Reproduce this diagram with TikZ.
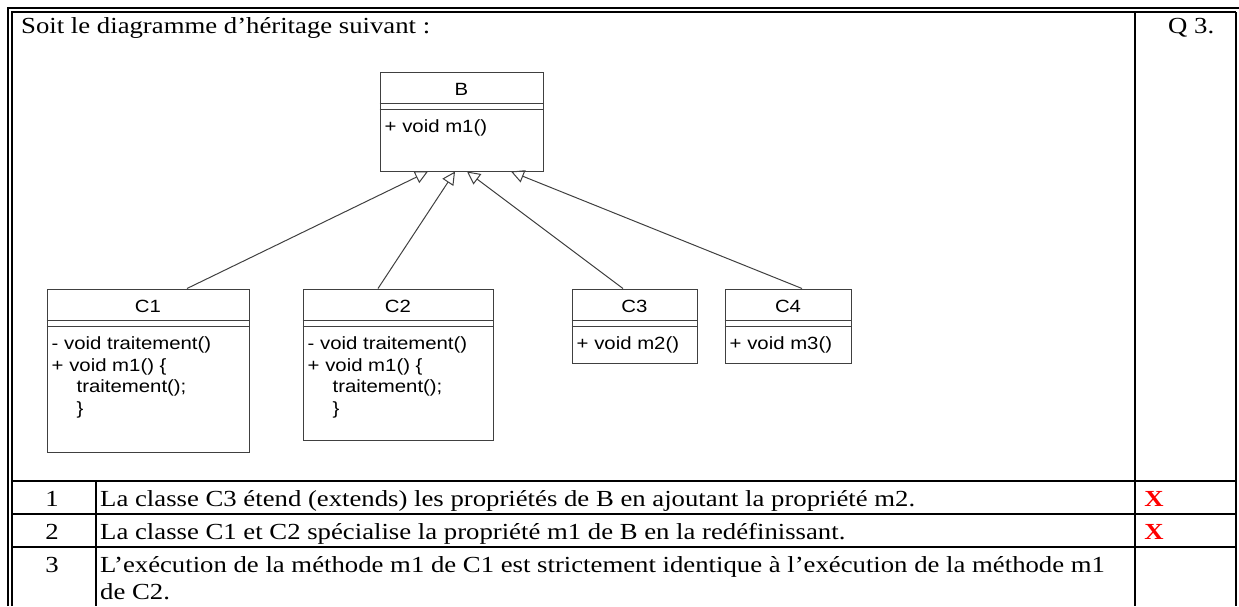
\documentclass[tikz,border=0pt]{standalone}
\usepackage{fontspec}
\setmainfont{Liberation Serif}
\newfontfamily\umlfont{Liberation Sans}
\usetikzlibrary{arrows.meta}
\definecolor{umlgray}{gray}{0.25}
\definecolor{markred}{RGB}{255,0,0}

\begin{document}
\begin{tikzpicture}[x=1pt, y=-1pt,
  txt/.style={inner sep=0pt, xscale=1.162, font=\fontsize{23}{27}\selectfont},
  umlbox/.style={draw=umlgray, line width=1pt, inner sep=0pt},
  umlname/.style={inner sep=0pt, xscale=1.15, anchor=base, font=\umlfont\fontsize{17.7}{21.7}\selectfont},
  umlops/.style={inner sep=0pt, xscale=1.15, anchor=base west, align=flush left, text width=150pt, font=\umlfont\fontsize{17.7}{21.7}\selectfont},
  inherit/.style={draw=umlgray, line width=1pt, -{Triangle[open, length=13pt, width=13pt]}},
  rule/.style={line width=1.8pt},
]
\useasboundingbox (0,0) rectangle (1239,606);

% frame and table
\draw[line width=2pt] (8,606) -- (8,8) -- (1239,8);
\draw[line width=1.2pt] (12,606) -- (12,12) -- (1236,12);
\draw[rule] (1236,12) -- (1236,606);
\draw[rule] (1135,12) -- (1135,606);
\foreach \y in {481,514,547} \draw[rule] (12,\y) -- (1236,\y);
\draw[line width=1.4pt] (96,481) -- (96,606);

\node[txt, anchor=base west] (title) at (21,33.5) {Soit le diagramme d’héritage suivant :};
\node[txt, anchor=base west] (qnum) at (1168,33.5) {Q 3.};

% classes
\node[umlbox, minimum width=163pt, minimum height=99pt] (b) at (461.5,121.5) {};
\node[umlbox, minimum width=202pt, minimum height=163pt] (c1) at (148,370.5) {};
\node[umlbox, minimum width=190pt, minimum height=151pt] (c2) at (398,364.5) {};
\node[umlbox, minimum width=125pt, minimum height=74pt] (c3) at (634.5,326) {};
\node[umlbox, minimum width=126pt, minimum height=74pt] (c4) at (788,326) {};
\foreach \c in {b,c1,c2,c3,c4} {
  \draw[umlgray, line width=1pt] ([yshift=-31.5pt]\c.north west) -- ([yshift=-31.5pt]\c.north east);
  \draw[umlgray, line width=1pt] ([yshift=-37.5pt]\c.north west) -- ([yshift=-37.5pt]\c.north east);
}
\node[umlname] (bname) at ([yshift=-24pt]b.north) {B};
\node[umlname] (c1name) at ([yshift=-24pt]c1.north) {C1};
\node[umlname] (c2name) at ([yshift=-24pt]c2.north) {C2};
\node[umlname] (c3name) at ([yshift=-24pt]c3.north) {C3};
\node[umlname] (c4name) at ([yshift=-24pt]c4.north) {C4};

\node[umlops] (bops) at ([shift={(5,61)}]b.north west) {+ void m1()};
\node[umlops] (c1ops) at ([shift={(5,61)}]c1.north west) {- void traitement()\\+ void m1() \{\\\hspace*{21.7pt}traitement();\\\hspace*{21.7pt}\}};
\node[umlops] (c2ops) at ([shift={(5,61)}]c2.north west) {- void traitement()\\+ void m1() \{\\\hspace*{21.7pt}traitement();\\\hspace*{21.7pt}\}};
\node[umlops] (c3ops) at ([shift={(5,61)}]c3.north west) {+ void m2()};
\node[umlops] (c4ops) at ([shift={(5,61)}]c4.north west) {+ void m3()};

% inheritance
\draw[inherit] ([shift={(39,0)}]c1.north) -- ([shift={(-33.5,0)}]b.south);
\draw[inherit] ([shift={(-20,0)}]c2.north) -- ([shift={(-6.5,0)}]b.south);
\draw[inherit] ([shift={(-11.5,0)}]c3.north) -- ([shift={(5.5,0)}]b.south);
\draw[inherit] ([shift={(14,0)}]c4.north) -- ([shift={(49.5,0)}]b.south);

% rows
\foreach \n/\y in {1/506,2/539,3/572} \node[txt, anchor=base] (num\n) at (52,\y) {\n};
\node[txt, anchor=base west] (row1) at (100,506) {La classe C3 étend (extends) les propriétés de B en ajoutant la propriété m2.};
\node[txt, anchor=base west] (row2) at (100,539) {La classe C1 et C2 spécialise la propriété m1 de B en la redéfinissant.};
\node[txt, anchor=base west, align=flush left, text width=920pt] (row3) at (100,572) {L’exécution de la méthode m1 de C1 est strictement identique à l’exécution de la méthode m1\\de C2.};
\node[txt, anchor=base, text=markred, font=\bfseries\fontsize{23}{27}\selectfont] (mark1) at (1154,506) {X};
\node[txt, anchor=base, text=markred, font=\bfseries\fontsize{23}{27}\selectfont] (mark2) at (1154,539) {X};
\end{tikzpicture}
\end{document}
